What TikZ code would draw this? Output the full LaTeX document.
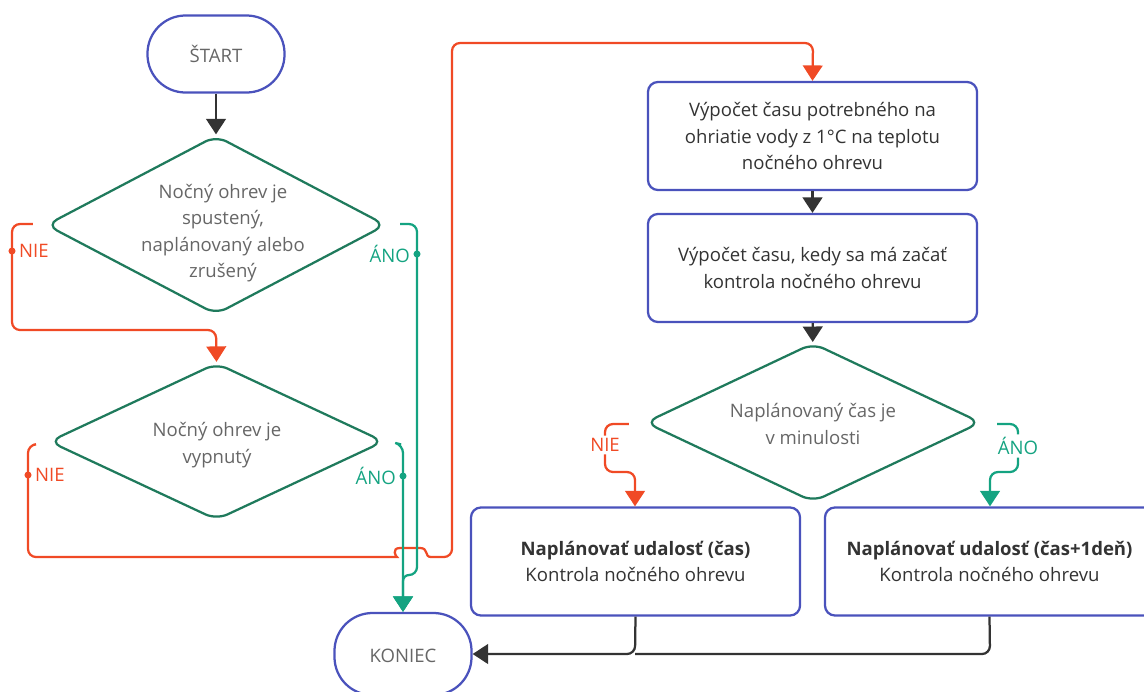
\documentclass[tikz,border=0pt]{standalone}
\usepackage{fontspec}
\setmainfont{Open Sans}
\usetikzlibrary{arrows.meta,shapes.geometric,calc}
\definecolor{blu}{HTML}{4A52BC}
\definecolor{dgreen}{HTML}{1F7A5C}
\definecolor{ano}{HTML}{14A381}
\definecolor{nie}{HTML}{F04A25}
\definecolor{dark}{HTML}{333333}
\definecolor{txtg}{HTML}{666666}

\begin{document}
\begin{tikzpicture}[x=0.025cm,y=-0.025cm,
  every node/.style={font=\fontsize{13.2}{18.8}\selectfont},
  term/.style={draw=blu,line width=1.6pt,rounded corners=0.95cm,minimum width=3.425cm,minimum height=1.925cm,text=txtg},
  box/.style={draw=blu,line width=1.6pt,rounded corners=0.25cm,minimum width=8.225cm,minimum height=2.7cm,align=center,text=dark},
  cond/.style={draw=dgreen,line width=1.6pt,diamond,rounded corners=0.3cm,inner sep=0pt},
  ctext/.style={align=center,text=txtg},
  flow/.style={line width=1.6pt,rounded corners=0.2cm},
  tip/.style={-{Triangle[width=14pt,length=11pt]}},
  dot/.style={circle,fill,inner sep=0pt,minimum size=5pt}]
  \useasboundingbox (0,0) rectangle (1144,691);
% start and end
  \node[term] (start) at (216,54) {ŠTART};
  \node[term,minimum height=2.05cm] (koniec) at (403,654) {};
  \node[text=txtg] (koniect) at (403,656) {KONIEC};
% left column
  \node[cond,minimum width=8.5cm,minimum height=4.475cm] (cond1) at (216,225) {};
  \node[ctext] (cond1t) at (223,233) {Nočný ohrev je\\spustený,\\naplánovaný alebo\\zrušený};
  \node[cond,minimum width=8.375cm,minimum height=3.925cm] (cond2) at (216.5,441.5) {};
  \node[ctext] (cond2t) at (217,445) {Nočný ohrev je\\vypnutý};
% right column
  \node[box] (calc1) at (812.5,136) {Výpočet času potrebného na\\ohriatie vody z 1°C na teplotu\\nočného ohrevu};
  \node[box] (calc2) at (812.5,268) {Výpočet času, kedy sa má začať\\kontrola nočného ohrevu};
  \node[cond,minimum width=8.4cm,minimum height=3.975cm] (cond3) at (813,422.5) {};
  \node[ctext] (cond3t) at (813,424) {Naplánovaný čas je\\v minulosti};
  \node[box] (plan1) at (635.5,561.5) {\textbf{Naplánovať udalosť (čas)}\\Kontrola nočného ohrevu};
  \node[box] (plan2) at (989.5,561.5) {\textbf{Naplánovať udalosť (čas+1deň)}\\Kontrola nočného ohrevu};
% plain arrows
  \draw[flow,dark,tip] (start) -- (cond1);
  \draw[flow,dark,tip] (calc1) -- (calc2);
  \draw[flow,dark,tip] (calc2) -- (cond3);
  \draw[flow,dark,tip] (plan1.south) -- (635,654) -- (koniec.east);
  \draw[flow,dark] (plan2.south) -- (990,654) -- (635,654);
% NIE branches
  \draw[flow,nie,tip] ($(cond1.west)+(-12,-1)$) -- (12,224) -- (12,251) node[dot]{} node[right,xshift=1pt]{NIE}
    -- (12,330) -- (216,330) -- (cond2.north);
  \draw[flow,nie,tip] ($(cond2.west)+(-14,3)$) -- (28,445) -- (28,475) node[dot]{} node[right,xshift=1pt]{NIE}
    -- (28,557) -- (389,557) [sharp corners] .. controls (396,557) and (391,548) .. (400,548)
    -- (420,548) .. controls (429,548) and (424,557) .. (431,557) [rounded corners=0.2cm]
    -- (452,557) -- (452,43) -- (813,43) -- (calc1.north);
  \draw[flow,nie,tip] ($(cond3.west)+(-15,1.5)$) -- (605,424) -- (605,445) node[fill=white,inner sep=2pt]{NIE}
    -- (605,472) -- (635,472) -- (plan1.north -| 635,0);
% ANO branches
  \draw[flow,ano,tip] ($(cond1.east)+(13,-1)$) -- (417,224) -- (417,254) node[dot]{} node[left,xshift=-1pt]{ÁNO}
    -- (417,575) [rounded corners=0.15cm] -- (403,575) -- (koniec.north);
  \draw[flow,ano,tip] ($(cond2.east)+(16,3)$) -- (403,445) -- (403,476) node[dot]{} node[left,xshift=-1pt]{ÁNO}
    -- (koniec.north);
  \draw[flow,ano,tip] ($(cond3.east)+(15,1.5)$) -- (1018,424) -- (1018,446) node[fill=white,inner sep=2pt]{ÁNO}
    -- (1018,472) -- (990,472) -- (plan2.north -| 990,0);
\end{tikzpicture}
\end{document}
